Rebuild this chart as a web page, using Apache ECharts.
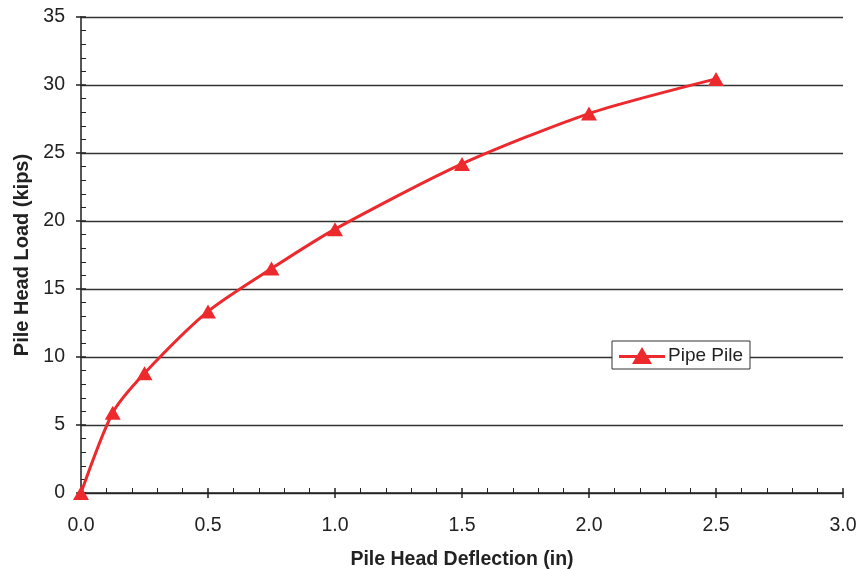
<!DOCTYPE html>
<html>
<head>
<meta charset="utf-8">
<script src="https://cdn.jsdelivr.net/npm/echarts@6/dist/echarts.min.js"></script>
<style>html,body{margin:0;padding:0;background:#fff}#c{width:859px;height:569px}</style>
</head>
<body>
<div id="c"></div>
<script>
var deflection = [0, 0.125, 0.25, 0.5, 0.75, 1.0, 1.5, 2.0, 2.5];
var load = [0, 5.9, 8.8, 13.35, 16.5, 19.4, 24.2, 27.9, 30.45];
var seriesName = 'Pipe Pile';
var xName = 'Pile Head Deflection (in)';
var yName = 'Pile Head Load (kips)';

var data = deflection.map(function (d, i) { return [d, load[i]]; });
var red = '#ec2a2e';
var dark = '#222';
var font = 'Liberation Sans, Arial, Helvetica, sans-serif';

var chart = echarts.init(document.getElementById('c'), null, {renderer: 'canvas'});
chart.setOption({
  animation: false,
  backgroundColor: '#fff',
  grid: {left: 81, right: 16, top: 17, bottom: 76, show: false, outerBoundsMode: 'none', containLabel: false},
  legend: {
    data: [{name: seriesName, icon: 'path://M0,8L46,8L46,11L0,11Z M13,17L23,0L33,17Z'}],
    left: 612, top: 341,
    padding: [5, 7, 4, 7],
    itemGap: 5,
    backgroundColor: '#fff', borderColor: '#333', borderWidth: 1, borderRadius: 0,
    itemWidth: 46, itemHeight: 17,
    textStyle: {fontFamily: font, fontSize: 19, color: dark, padding: [0, 0, 0, -2]},
    selectedMode: false
  },
  xAxis: [{
    type: 'value', min: 0, max: 3, interval: 0.5, position: 'bottom',
    name: xName, nameLocation: 'middle', nameGap: 57,
    nameTextStyle: {fontFamily: font, fontSize: 19.5, fontWeight: 'bold', color: dark},
    axisLine: {show: true, lineStyle: {color: dark, width: 1.5}},
    axisTick: {show: true, inside: false, length: 5, lineStyle: {color: dark, width: 1.5}},
    axisLabel: {margin: 23, fontFamily: font, fontSize: 19.5, color: dark,
      formatter: function (v) { return v.toFixed(1); }},
    splitLine: {show: false}
  }, {
    type: 'value', min: 0, max: 3, interval: 0.5, position: 'bottom',
    axisLine: {show: false},
    axisTick: {show: true, inside: true, length: 5, lineStyle: {color: dark, width: 1.5}},
    minorTick: {show: true, splitNumber: 5, length: 5, lineStyle: {color: dark, width: 1}},
    axisLabel: {show: false},
    splitLine: {show: false}
  }, {
    type: 'value', min: 0, max: 3, position: 'top',
    axisLine: {show: false}, axisTick: {show: false}, axisLabel: {show: false}, splitLine: {show: false}
  }],
  yAxis: [{
    type: 'value', min: 0, max: 35, interval: 5, position: 'left',
    name: yName, nameLocation: 'middle', nameGap: 47, nameRotate: 90,
    nameTextStyle: {fontFamily: font, fontSize: 20, fontWeight: 'bold', color: dark},
    axisLine: {show: true, lineStyle: {color: dark, width: 1.5}},
    axisTick: {show: true, inside: false, length: 5, lineStyle: {color: dark, width: 1.5}},
    axisLabel: {margin: 16, fontFamily: font, fontSize: 19.5, color: dark},
    splitLine: {show: true, lineStyle: {color: '#333', width: 1.3}}
  }, {
    type: 'value', min: 0, max: 35, interval: 5, position: 'left',
    axisLine: {show: false},
    axisTick: {show: true, inside: true, length: 5, lineStyle: {color: dark, width: 1.5}},
    minorTick: {show: true, splitNumber: 5, length: 5, lineStyle: {color: dark, width: 1}},
    axisLabel: {show: false},
    splitLine: {show: false}
  }, {
    type: 'value', min: 0, max: 35, position: 'right',
    axisLine: {show: true, lineStyle: {color: '#555', width: 1.5}},
    axisTick: {show: false}, axisLabel: {show: false}, splitLine: {show: false}
  }],
  series: [{
    name: seriesName,
    type: 'line',
    xAxisIndex: 0, yAxisIndex: 0,
    data: data,
    smooth: 0.25,
    symbol: 'triangle', symbolSize: [16, 14],
    itemStyle: {color: red},
    lineStyle: {color: red, width: 3},
    z: 5
  }]
});
</script>
</body>
</html>
